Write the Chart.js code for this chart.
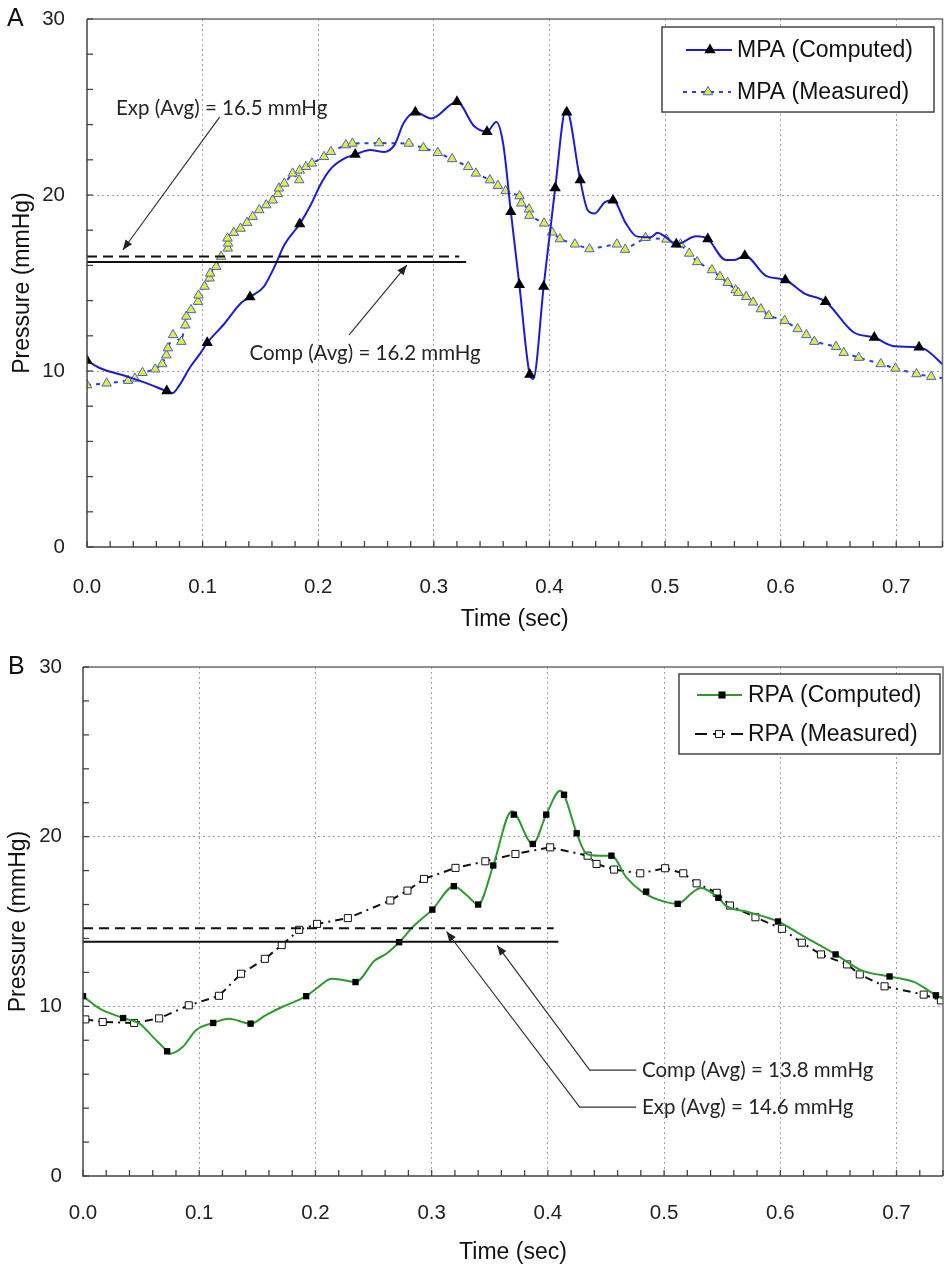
<!DOCTYPE html>
<html><head><meta charset="utf-8">
<script src="https://cdn.jsdelivr.net/npm/chart.js@4.4.1/dist/chart.umd.min.js"></script>
<style>
html,body{margin:0;padding:0;background:#fff;}
.wrap{position:absolute;left:0;width:949px;height:633px;}
canvas{display:block}
</style>
</head><body>
<div class="wrap" style="top:0"><canvas id="cA" width="949" height="633"></canvas></div>
<div class="wrap" style="top:633px"><canvas id="cB" width="949" height="633"></canvas></div>
<script>
// ---------- axis ticks ----------
const xTickValues = [0, 0.1, 0.2, 0.3, 0.4, 0.5, 0.6, 0.7];
const yTickValues = [0, 10, 20, 30];
const xMax = 0.74;

// ---------- Panel A: MPA ----------
const mpaCompT = [0.000,0.011,0.034,0.052,0.069,0.074,0.080,0.089,0.098,0.104,0.119,0.133,0.141,0.153,0.162,0.171,0.184,0.194,0.202,0.211,0.222,0.232,0.245,0.257,0.266,0.274,0.284,0.298,0.320,0.335,0.346,0.354,0.360,0.3666,0.374,0.383,0.386,0.395,0.405,0.4144,0.4266,0.433,0.439,0.448,0.455,0.466,0.4755,0.4876,0.4936,0.4997,0.5097,0.527,0.537,0.5526,0.560,0.569,0.5874,0.604,0.6207,0.6388,0.663,0.681,0.699,0.7197,0.745];
const mpaCompP = [10.6,10.17,9.7,9.3,8.85,8.75,9.2,10.2,11.0,11.6,12.7,13.85,14.2,14.8,15.9,17.2,18.35,19.5,20.6,21.5,22.05,22.3,22.55,22.45,22.85,24.1,24.7,24.35,25.3,23.9,23.6,24.15,22.9,19.05,14.9,9.8,9.55,14.8,20.4,24.9,20.85,19.15,18.95,19.6,19.7,18.4,17.65,17.6,17.85,17.65,17.2,17.65,17.5,16.3,16.3,16.55,15.4,15.17,14.4,13.94,12.2,11.9,11.4,11.35,10.1];
const mpaMarkT = [0,0.069,0.104,0.141,0.184,0.232,0.284,0.320,0.346,0.3666,0.374,0.383,0.395,0.405,0.415,0.4266,0.455,0.5097,0.537,0.569,0.604,0.6388,0.681,0.7197];
const mpaMarkP = [10.6,8.86,11.6,14.2,18.35,22.3,24.7,25.3,23.6,19.05,14.9,9.8,14.8,20.4,24.7,20.85,19.7,17.2,17.5,16.55,15.17,13.94,11.9,11.35];
const mpaMeasT = [0.000,0.017,0.0356,0.0414,0.048,0.059,0.065,0.0687,0.070,0.0744,0.0816,0.085,0.0859,0.090,0.096,0.0965,0.1017,0.106,0.1065,0.1118,0.116,0.1218,0.122,0.1215,0.127,0.1328,0.1385,0.1434,0.149,0.155,0.1606,0.165,0.166,0.1707,0.1779,0.1836,0.184,0.1894,0.1946,0.205,0.211,0.2239,0.2296,0.2526,0.2784,0.291,0.3034,0.3158,0.3297,0.3364,0.3485,0.3554,0.3621,0.3741,0.3757,0.3823,0.3826,0.3954,0.4023,0.409,0.422,0.4346,0.4583,0.4655,0.4831,0.5012,0.5134,0.5209,0.5278,0.5405,0.5475,0.5541,0.5611,0.5633,0.5702,0.5762,0.5829,0.5896,0.6034,0.6147,0.6222,0.6291,0.6479,0.6546,0.6676,0.6866,0.6993,0.7175,0.7302,0.750];
const mpaMeasP = [9.2,9.3,9.45,9.58,9.9,10.1,10.4,10.9,11.3,12.05,11.67,12.6,13.1,13.47,13.94,14.3,14.8,15.27,15.55,15.93,16.5,16.97,17.25,17.54,17.86,18.1,18.43,18.77,19.15,19.43,19.7,20.06,20.38,20.66,21.23,20.85,21.4,21.6,21.8,22.17,22.46,22.84,22.93,22.95,22.93,22.68,22.4,22.05,21.6,21.23,20.85,20.53,20.23,19.94,19.53,19.19,18.83,18.39,17.88,17.5,17.2,16.93,17.2,16.9,17.57,17.48,17.2,16.68,16.2,15.74,15.36,15.02,14.6,14.45,14.22,13.9,13.52,13.14,12.86,12.39,12.05,11.67,11.38,11.04,10.76,10.4,10.15,9.83,9.68,9.5];
const mpaAvg = {exp: 16.5, comp: 16.2};

// ---------- Panel B: RPA ----------
const rpaCompT = [0.000,0.0145,0.0345,0.0487,0.0601,0.0724,0.0744,0.0857,0.0972,0.112,0.1256,0.1442,0.157,0.1712,0.192,0.2026,0.2139,0.2225,0.2345,0.251,0.261,0.272,0.2849,0.3006,0.3191,0.3305,0.340,0.353,0.369,0.387,0.3986,0.4106,0.4139,0.4248,0.4333,0.4447,0.4547,0.4675,0.4818,0.5017,0.5117,0.5245,0.5316,0.5467,0.553,0.5729,0.598,0.6214,0.6476,0.6698,0.694,0.7154,0.7339,0.745];
const rpaCompP = [10.6,9.86,9.31,8.98,8.2,7.35,7.2,7.6,8.59,9.02,9.27,8.98,9.47,9.96,10.6,11.14,11.63,11.57,11.43,12.7,13.1,13.78,14.76,15.7,17.08,16.53,16.0,18.3,21.5,19.57,21.3,22.7,22.47,20.2,18.98,18.88,18.88,17.6,16.72,16.14,16.04,16.72,16.98,16.4,15.94,15.55,15.0,14.08,13.06,12.12,11.76,11.43,10.65,10.3];
const rpaMarkT = [0,0.0345,0.0724,0.112,0.1442,0.192,0.2345,0.272,0.3006,0.3191,0.340,0.353,0.3707,0.387,0.3986,0.4139,0.4248,0.4547,0.4846,0.5117,0.5467,0.598,0.6476,0.694,0.7339];
const rpaMarkP = [10.6,9.31,7.35,9.02,8.98,10.6,11.43,13.78,15.7,17.08,16.0,18.3,21.3,19.57,21.3,22.47,20.2,18.88,16.76,16.04,16.4,15.0,13.06,11.76,10.65];
const rpaMeasT = [0.002,0.017,0.044,0.0655,0.091,0.117,0.136,0.1565,0.171,0.186,0.2014,0.2279,0.2644,0.2792,0.2934,0.3205,0.3462,0.3721,0.402,0.4342,0.4419,0.457,0.4795,0.5009,0.5165,0.528,0.5453,0.5567,0.5786,0.6014,0.6185,0.635,0.6575,0.6684,0.6897,0.7234,0.7382];
const rpaMeasP = [9.23,9.08,9.02,9.29,10.06,10.62,11.92,12.8,13.61,14.51,14.86,15.2,16.24,16.82,17.51,18.16,18.55,18.98,19.37,18.88,18.39,18.06,17.84,18.14,17.84,17.25,16.69,15.94,15.25,14.57,13.75,13.06,12.47,11.88,11.18,10.69,10.35];
const rpaAvg = {exp: 14.6, comp: 13.8};

// ---------- helpers ----------
const pts = (ts, vs) => ts.map((t, i) => ({x: t, y: vs[i]}));
const FONT = '"Liberation Sans", Arial, sans-serif';
const NOTE_FONT = '20.5px Lato, "Open Sans", sans-serif';

function marker(ctx, style, x, y, r, fill, stroke, bw) {
  ctx.save();
  ctx.beginPath();
  if (style === 'triangle') {
    for (let k = 0; k < 3; k++) {
      const a = k * 2 * Math.PI / 3;
      const px = x + Math.sin(a) * r, py = y - Math.cos(a) * r;
      k === 0 ? ctx.moveTo(px, py) : ctx.lineTo(px, py);
    }
    ctx.closePath();
  } else {
    const s = r * Math.SQRT1_2;
    ctx.rect(x - s, y - s, 2 * s, 2 * s);
  }
  ctx.fillStyle = fill; ctx.fill();
  if (bw > 0) { ctx.lineWidth = bw; ctx.strokeStyle = stroke; ctx.stroke(); }
  ctx.restore();
}

function arrowLine(ctx, P) {
  ctx.beginPath();
  ctx.moveTo(P[0][0], P[0][1]);
  for (let i = 1; i < P.length; i++) ctx.lineTo(P[i][0], P[i][1]);
  ctx.stroke();
  const [x1, y1] = P[P.length - 1], [x0, y0] = P[P.length - 2];
  const a = Math.atan2(y1 - y0, x1 - x0), L = 10, W = 4;
  ctx.beginPath();
  ctx.moveTo(x1, y1);
  ctx.lineTo(x1 - L * Math.cos(a) + W * Math.sin(a), y1 - L * Math.sin(a) - W * Math.cos(a));
  ctx.lineTo(x1 - L * Math.cos(a) - W * Math.sin(a), y1 - L * Math.sin(a) + W * Math.cos(a));
  ctx.closePath();
  ctx.fill();
}

function gridColor(c, max) {
  const v = c.tick ? c.tick.value : null;
  return (v === 0 || Math.abs(v - max) < 1e-9) ? 'rgba(0,0,0,0)' : '#a0a0a0';
}

function makePanel(id, cfg) {
  const decor = {
    id: 'decor_' + id,
    afterDatasetsDraw(chart) {
      const ctx = chart.ctx, a = chart.chartArea;
      const X = v => chart.scales.x.getPixelForValue(v);
      const Y = v => chart.scales.y.getPixelForValue(v);
      ctx.save();
      // reference (average) lines
      ctx.strokeStyle = '#111'; ctx.lineWidth = 2;
      ctx.setLineDash([10, 6]);
      ctx.beginPath(); ctx.moveTo(X(0), Y(cfg.avg.exp)); ctx.lineTo(X(cfg.refEnd.exp), Y(cfg.avg.exp)); ctx.stroke();
      ctx.setLineDash([]);
      ctx.beginPath(); ctx.moveTo(X(0), Y(cfg.avg.comp)); ctx.lineTo(X(cfg.refEnd.comp), Y(cfg.avg.comp)); ctx.stroke();
      // annotations
      ctx.strokeStyle = '#333'; ctx.fillStyle = '#222'; ctx.lineWidth = 1.2;
      cfg.notes.forEach(n => {
        arrowLine(ctx, n.path.map(p => [X(p[0]), Y(p[1])]));
      });
      ctx.fillStyle = '#262626'; ctx.font = NOTE_FONT; ctx.textBaseline = 'middle'; ctx.textAlign = 'left';
      cfg.notes.forEach(n => ctx.fillText(n.text, X(n.at[0]), Y(n.at[1])));
      // frame
      ctx.lineWidth = 1.5; ctx.strokeStyle = '#6a6a6a';
      ctx.beginPath(); ctx.moveTo(a.left, a.top); ctx.lineTo(a.right, a.top); ctx.lineTo(a.right, a.bottom); ctx.stroke();
      ctx.strokeStyle = '#444';
      ctx.beginPath(); ctx.moveTo(a.left, a.top); ctx.lineTo(a.left, a.bottom); ctx.lineTo(a.right, a.bottom); ctx.stroke();
      // inward minor/major ticks
      ctx.lineWidth = 1.3;
      for (let i = 0; i * 0.02 <= xMax + 1e-9; i++) {
        const px = X(i * 0.02);
        ctx.beginPath(); ctx.moveTo(px, a.bottom); ctx.lineTo(px, a.bottom - 6); ctx.stroke();
      }
      for (let v = 0; v <= 30; v += 2) {
        const py = Y(v);
        ctx.beginPath(); ctx.moveTo(a.left, py); ctx.lineTo(a.left + 6, py); ctx.stroke();
      }
      // panel letter
      ctx.fillStyle = '#111'; ctx.font = '25px ' + FONT; ctx.textBaseline = 'middle';
      ctx.fillText(cfg.letter, cfg.letterPos[0], cfg.letterPos[1]);
      // legend
      const L = cfg.legend;
      ctx.fillStyle = '#fff'; ctx.fillRect(L.x, L.y, L.w, L.h);
      ctx.strokeStyle = '#444'; ctx.lineWidth = 1.5; ctx.strokeRect(L.x, L.y, L.w, L.h);
      L.items.forEach(it => {
        ctx.strokeStyle = it.color; ctx.lineWidth = it.width; ctx.setLineDash(it.dash || []);
        ctx.beginPath(); ctx.moveTo(it.x0, it.y); ctx.lineTo(it.x1, it.y); ctx.stroke();
        ctx.setLineDash([]);
        marker(ctx, it.m.style, it.m.x, it.y, it.m.r, it.m.fill, it.m.stroke, it.m.bw);
        ctx.fillStyle = '#111'; ctx.font = '23px ' + FONT; ctx.textBaseline = 'middle';
        ctx.fillText(it.label, L.textX, it.y + 1);
      });
      ctx.restore();
    }
  };
  return new Chart(document.getElementById(id), {
    type: 'line',
    data: {datasets: cfg.datasets},
    options: {
      responsive: false, animation: false, devicePixelRatio: 1,
      layout: {padding: cfg.padding},
      plugins: {legend: {display: false}, tooltip: {enabled: false}},
      elements: {line: {fill: false}},
      scales: {
        x: {
          type: 'linear', min: 0, max: xMax,
          afterBuildTicks: s => { s.ticks = xTickValues.map(v => ({value: v})); },
          afterFit: s => { s.height = cfg.xAxisH; s.paddingLeft = 0; s.paddingRight = 0; s.paddingTop = 0; s.paddingBottom = 0; },
          ticks: {callback: v => Number(v).toFixed(1), font: {family: FONT, size: 20.5}, color: '#222', padding: cfg.xPad, maxRotation: 0, autoSkip: false},
          grid: {color: c => gridColor(c, xMax), drawTicks: false, lineWidth: 1},
          border: {display: false, dash: [2, 3]},
          title: {display: true, text: 'Time (sec)', color: '#111', font: {family: FONT, size: 23, lineHeight: 1}, padding: {top: 0, bottom: cfg.xTitlePad}}
        },
        y: {
          type: 'linear', min: 0, max: 30,
          afterBuildTicks: s => { s.ticks = yTickValues.map(v => ({value: v})); },
          afterFit: s => { s.width = cfg.yAxisW; s.paddingTop = 0; s.paddingBottom = 0; s.paddingLeft = 0; s.paddingRight = 0; },
          ticks: {font: {family: FONT, size: 20.5}, color: '#222', padding: cfg.yPad},
          grid: {color: c => gridColor(c, 30), drawTicks: false, lineWidth: 1},
          border: {display: false, dash: [2, 3]},
          title: {display: true, text: 'Pressure (mmHg)', color: '#111', font: {family: FONT, size: 23, lineHeight: 1}, padding: {top: cfg.yTitlePad, bottom: 0}}
        }
      }
    },
    plugins: [decor]
  });
}

// ---------- Panel A ----------
makePanel('cA', {
  padding: {left: 0, top: 19, right: 4, bottom: 0},
  xAxisH: 86, yAxisW: 87, xPad: 28, yPad: 22, xTitlePad: 2, yTitlePad: 11,
  avg: mpaAvg, refEnd: {exp: 0.322, comp: 0.328},
  letter: 'A', letterPos: [7, 19],
  notes: [
    {text: 'Exp (Avg) = 16.5 mmHg', at: [0.025, 24.94], path: [[0.1147, 24.43], [0.031, 16.875]]},
    {text: 'Comp (Avg) = 16.2 mmHg', at: [0.1405, 11.02], path: [[0.2267, 12.05], [0.2767, 16.02]]}
  ],
  legend: {x: 662, y: 27, w: 272, h: 85, textX: 737, items: [
    {label: 'MPA (Computed)', y: 50, x0: 686, x1: 732, color: '#1c1cd6', width: 2, m: {style: 'triangle', x: 710, r: 6.5, fill: '#000', stroke: '#000', bw: 0}},
    {label: 'MPA (Measured)', y: 92, x0: 683, x1: 731, color: '#2b3fd8', width: 2, dash: [4, 5], m: {style: 'triangle', x: 708, r: 5.5, fill: '#e2ee3a', stroke: '#4a62d0', bw: 1}}
  ]},
  datasets: [
    {data: pts(mpaMarkT, mpaMarkP), showLine: false, pointStyle: 'triangle', pointRadius: 6.5, pointBackgroundColor: '#000', pointBorderColor: '#000', pointBorderWidth: 0},
    {data: pts(mpaCompT, mpaCompP), borderColor: '#1c1cd6', borderWidth: 2, pointRadius: 0, cubicInterpolationMode: 'monotone'},
    {data: pts(mpaMeasT, mpaMeasP), borderColor: '#2b3fd8', borderWidth: 2, borderDash: [4, 5], tension: 0, pointStyle: 'triangle', pointRadius: c => (c.raw && c.raw.x > xMax ? 0 : 5.5), pointBackgroundColor: '#e2ee3a', pointBorderColor: '#4a62d0', pointBorderWidth: 1}
  ]
});

// ---------- Panel B ----------
makePanel('cB', {
  padding: {left: 0, top: 34, right: 2, bottom: 0},
  xAxisH: 90, yAxisW: 83, xPad: 25, yPad: 21, xTitlePad: 2, yTitlePad: 7,
  avg: rpaAvg, refEnd: {exp: 0.405, comp: 0.409},
  letter: 'B', letterPos: [8, 34],
  notes: [
    {text: 'Comp (Avg) = 13.8 mmHg', at: [0.481, 6.24], path: [[0.476, 6.24], [0.436, 6.24], [0.3564, 13.59]]},
    {text: 'Exp (Avg) = 14.6 mmHg', at: [0.481, 4.06], path: [[0.476, 4.06], [0.4274, 4.06], [0.3128, 14.41]]}
  ],
  legend: {x: 679, y: 41, w: 261, h: 80, textX: 748, items: [
    {label: 'RPA (Computed)', y: 62, x0: 697, x1: 742, color: '#2e9a2e', width: 2, m: {style: 'rect', x: 722, r: 5, fill: '#000', stroke: '#000', bw: 0}},
    {label: 'RPA (Measured)', y: 101, x0: 695, x1: 743, color: '#111', width: 2, dash: [12, 6], m: {style: 'rect', x: 719, r: 5, fill: '#fff', stroke: '#111', bw: 1}}
  ]},
  datasets: [
    {data: pts(rpaMarkT, rpaMarkP), showLine: false, pointStyle: 'rect', pointRadius: 4.5, pointBackgroundColor: '#000', pointBorderColor: '#000', pointBorderWidth: 0},
    {data: pts(rpaCompT, rpaCompP), borderColor: '#2e9a2e', borderWidth: 2, pointRadius: 0, cubicInterpolationMode: 'monotone'},
    {data: pts(rpaMeasT, rpaMeasP), borderColor: '#111', borderWidth: 2, borderDash: [8, 5, 2, 5], tension: 0, pointStyle: 'rect', pointRadius: 5, pointBackgroundColor: '#fff', pointBorderColor: '#111', pointBorderWidth: 1}
  ]
});
</script>
</body></html>
